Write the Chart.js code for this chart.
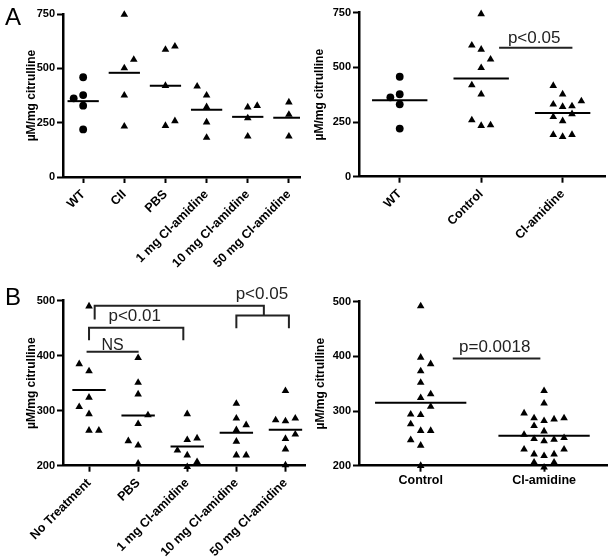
<!DOCTYPE html>
<html>
<head>
<meta charset="utf-8">
<script src="https://cdn.jsdelivr.net/npm/chart.js@4"></script>
<style>
  html, body { margin: 0; padding: 0; background: #fff; }
  #wrap { position: relative; width: 612px; height: 560px; }
  canvas { position: absolute; }
</style>
</head>
<body>
<div id="wrap">
  <canvas id="chartA1" width="310" height="280" style="left:0;top:0"></canvas>
  <canvas id="chartA2" width="302" height="280" style="left:310px;top:0"></canvas>
  <canvas id="chartB1" width="310" height="280" style="left:0;top:280px"></canvas>
  <canvas id="chartB2" width="302" height="280" style="left:310px;top:280px"></canvas>
</div>
<script>
// ---- panel A, left: by treatment group ----
const catsA1 = ['WT', 'CII', 'PBS', '1 mg Cl-amidine', '10 mg Cl-amidine', '50 mg Cl-amidine'];
const wtA1 = [459, 362, 377, 328, 219];
const ciiA1 = [747, 540, 501, 376, 233];
const pbsA1 = [586, 601, 420, 236, 258];
const cl1A1 = [417, 376, 322, 252, 181];
const cl10A1 = [321, 328, 271, 187];
const cl50A1 = [344, 287, 187];
// column of each dot inside its group (scatter dodge)
const lanesA1 = [[0, -1, 0, 0, 0], [0, 1, 0, 0, 0], [0, 1, 0, 0, 1], [-1, 0, 0, 0, 0], [0, 1, 0, 0], [0, 0, 0]];

// ---- panel A, right: pooled ----
const catsA2 = ['WT', 'Control', 'Cl-amidine'];
const wtA2 = [457, 363, 377, 331, 220];
const ctrlA2 = [744, 601, 582, 537, 498, 419, 377, 259, 233, 236];
const clA2 = [416, 377, 331, 320, 323, 346, 274, 255, 287, 192, 183, 192];
const lanesA2 = [[0, -1, 0, 0, 0], [0, -1, 0, 1, 0, -1, 0, -1, 0, 1], [-1, 0, -1, 0, 1, 2, -1, 0, 1, -1, 0, 1]];

// ---- panel B, left: by treatment group ----
const catsB1 = ['No Treatment', 'PBS', '1 mg Cl-amidine', '10 mg Cl-amidine', '50 mg Cl-amidine'];
const ntB1 = [490, 385, 372, 324, 307, 294, 264, 264];
const pbsB1 = [396, 351, 330, 292, 276, 245, 237, 204];
const cl1B1 = [294, 250, 247, 228, 219, 207, 198];
const cl10B1 = [313, 286, 274, 265, 244, 219, 219];
const cl50B1 = [336, 283, 281, 286, 249, 257, 230, 201];
const lanesB1 = [[0, -1, 0, 0, -1, 0, 0, 1], [0, 0, 0, 1, 0, -1, 0, 0], [0, 1, 0, -1, 0, 1, 0], [0, 0, 1, 0, 0, 0, 1], [0, -1, 0, 1, 0, 1, 0, 0]];

// ---- panel B, right: pooled ----
const catsB2 = ['Control', 'Cl-amidine'];
const ctrlB2 = [492, 398, 386, 373, 352, 331, 324, 308, 294, 293, 276, 264, 264, 247, 237, 200];
const clB2 = [337, 314, 296, 287, 282, 285, 287, 273, 263, 257, 249, 245, 248, 251, 230, 230, 221, 218, 221, 206, 206, 197];
const lanesB2 = [[0, 0, 1, 0, 0, 1, 0, 1, -1, 0, -1, 0, 1, -1, 0, 0], [0, 0, -2, -1, 0, 1, 2, -1, 0, -2, -1, 0, 1, 2, -2, 2, -1, 0, 1, -1, 1, 0]];

const yTitle = 'µM/mg citrulline';
const FONT = '"Liberation Sans", Arial, Helvetica, sans-serif';

// draws significance brackets, p-value text and the panel letter
const annotate = {
    id: 'annotate',
    afterDatasetsDraw(chart, args, opts) {
        const ctx = chart.ctx;
        const xs = chart.scales.x, ys = chart.scales.y;
        ctx.save();
        ctx.strokeStyle = '#222';
        ctx.lineWidth = 2;
        (opts.paths || []).forEach(p => {
            ctx.beginPath();
            p.forEach(([x, y], k) => {
                const px = xs.getPixelForValue(x), py = ys.getPixelForValue(y);
                if (k) ctx.lineTo(px, py); else ctx.moveTo(px, py);
            });
            ctx.stroke();
        });
        ctx.fillStyle = '#222';
        ctx.textAlign = 'center';
        ctx.textBaseline = 'alphabetic';
        (opts.labels || []).forEach(t => {
            ctx.font = (t.size || 17) + 'px ' + FONT;
            ctx.fillText(t.text, xs.getPixelForValue(t.x), ys.getPixelForValue(t.y));
        });
        if (opts.letter) {
            ctx.fillStyle = '#000';
            ctx.textAlign = 'left';
            ctx.font = '24px ' + FONT;
            ctx.fillText(opts.letter, 5, 25);
        }
        ctx.restore();
    }
};

function makeChart(id, c) {
    const datasets = [];
    c.groups.forEach((vals, i) => {
        datasets.push({
            data: vals.map((v, k) => ({ x: i + c.lanes[i][k] * c.pitch, y: v })),
            pointStyle: (c.circles && c.circles[i]) ? 'circle' : 'triangle',
            pointRadius: (c.circles && c.circles[i]) ? 3.9 : 4.4,
            backgroundColor: '#000',
            borderColor: '#000',
            borderWidth: 0,
            clip: false
        });
        const mean = vals.reduce((a, b) => a + b, 0) / vals.length;
        datasets.push({
            data: [{ x: i - c.half, y: mean }, { x: i + c.half, y: mean }],
            showLine: true,
            pointRadius: 0,
            borderColor: '#000',
            borderWidth: 2
        });
    });

    new Chart(document.getElementById(id), {
        type: 'scatter',
        data: { datasets },
        plugins: [annotate],
        options: {
            responsive: false,
            animation: false,
            events: [],
            layout: { padding: c.padding },
            plugins: {
                legend: { display: false },
                tooltip: { enabled: false },
                annotate: c.notes
            },
            scales: {
                x: {
                    type: 'linear',
                    min: c.xMin,
                    max: c.xMax,
                    afterBuildTicks: s => { s.ticks = c.cats.map((n, i) => ({ value: i })); },
                    afterFit: s => { s.height = c.xHeight; },
                    ticks: {
                        callback: (v, i) => c.cats[i],
                        autoSkip: false,
                        minRotation: c.rotation,
                        maxRotation: c.rotation,
                        padding: c.rotation ? 4 : 1,
                        color: '#000',
                        font: { family: FONT, size: 12.5, weight: 'bold' }
                    },
                    grid: { drawOnChartArea: false, tickLength: 6, tickWidth: 2, tickColor: '#000' },
                    border: { color: '#000', width: 2.5 }
                },
                y: {
                    min: c.yMin,
                    max: c.yMax,
                    afterFit: s => { s.width = c.yWidth; },
                    ticks: {
                        stepSize: c.yStep,
                        padding: 2,
                        color: '#000',
                        font: { family: FONT, size: 11, weight: 'bold' }
                    },
                    grid: { drawOnChartArea: false, tickLength: 6, tickWidth: 2, tickColor: '#000' },
                    border: { color: '#000', width: 2.5 },
                    title: {
                        display: true,
                        text: yTitle,
                        padding: 0,
                        color: '#000',
                        font: { family: FONT, size: 12, weight: 'bold' }
                    }
                }
            }
        }
    });
}

makeChart('chartA1', {
    cats: catsA1,
    groups: [wtA1, ciiA1, pbsA1, cl1A1, cl10A1, cl50A1],
    lanes: lanesA1,
    circles: [true],
    pitch: 0.23, half: 0.38,
    xMin: -0.49, xMax: 5.27, rotation: 45, xHeight: 103,
    yMin: 0, yMax: 750, yStep: 250, yWidth: 38.2,
    padding: { left: 24.8, top: 14, right: 10, bottom: 0 },
    notes: { letter: 'A' }
});

makeChart('chartA2', {
    cats: catsA2,
    groups: [wtA2, ctrlA2, clA2],
    lanes: lanesA2,
    circles: [true],
    pitch: 0.115, half: 0.34,
    xMin: -0.5, xMax: 2.52, rotation: 45, xHeight: 103.3,
    yMin: 0, yMax: 750, yStep: 250, yWidth: 46.2,
    padding: { left: 2.8, top: 12.7, right: 7, bottom: 0 },
    notes: {
        paths: [[[1.22, 590], [2.12, 590]]],
        labels: [{ text: 'p<0.05', x: 1.65, y: 613 }]
    }
});

makeChart('chartB1', {
    cats: catsB1,
    groups: [ntB1, pbsB1, cl1B1, cl10B1, cl50B1],
    lanes: lanesB1,
    pitch: 0.2, half: 0.34,
    xMin: -0.53, xMax: 4.41, rotation: 45, xHeight: 94.3,
    yMin: 200, yMax: 500, yStep: 100, yWidth: 38.2,
    padding: { left: 24.8, top: 20.7, right: 3, bottom: 0 },
    notes: {
        letter: 'B',
        paths: [
            [[-0.05, 407], [1.01, 407]],
            [[0, 428], [0, 451], [1.92, 451], [1.92, 428]],
            [[0.115, 466], [0.115, 491], [3.56, 491], [3.56, 473]],
            [[3.0, 450], [3.0, 473], [4.07, 473], [4.07, 450]]
        ],
        labels: [
            { text: 'NS', x: 0.48, y: 410, size: 16 },
            { text: 'p<0.01', x: 0.93, y: 464 },
            { text: 'p<0.05', x: 3.52, y: 502.5 }
        ]
    }
});

makeChart('chartB2', {
    cats: catsB2,
    groups: [ctrlB2, clB2],
    lanes: lanesB2,
    pitch: 0.081, half: 0.37,
    xMin: -0.5, xMax: 1.51, rotation: 0, xHeight: 94.3,
    yMin: 200, yMax: 500, yStep: 100, yWidth: 45.2,
    padding: { left: 3.8, top: 21.7, right: 5, bottom: 0 },
    notes: {
        paths: [[[0.26, 396], [0.97, 396]]],
        labels: [{ text: 'p=0.0018', x: 0.6, y: 408.5 }]
    }
});
</script>
</body>
</html>
